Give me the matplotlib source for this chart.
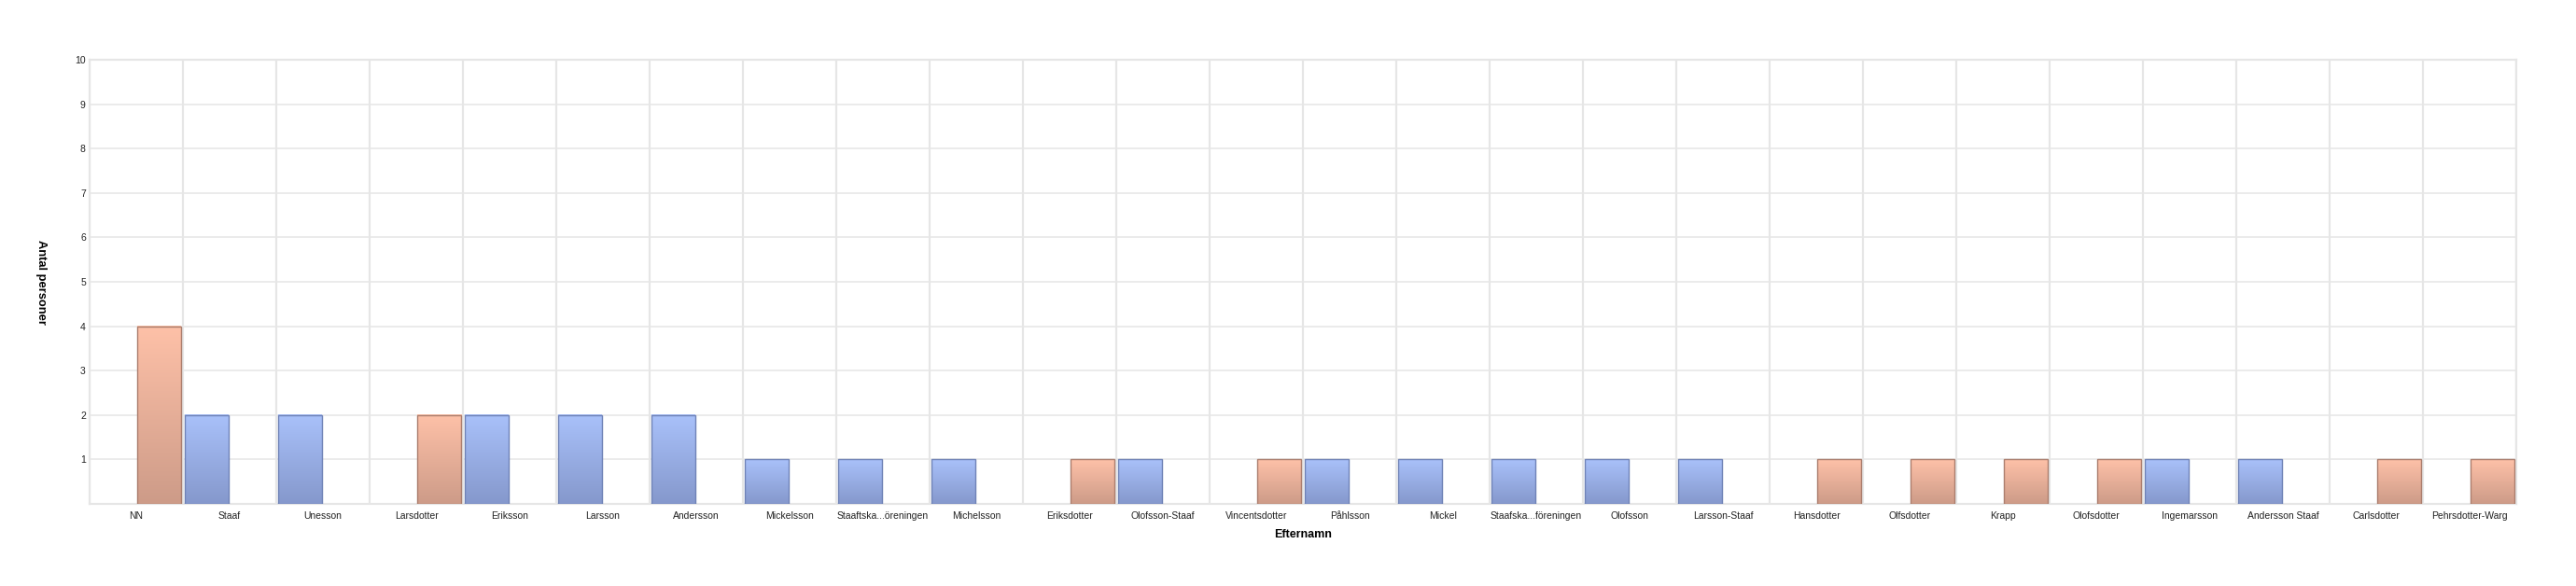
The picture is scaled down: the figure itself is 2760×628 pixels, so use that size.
import numpy as np
import matplotlib
matplotlib.use('Agg')
import matplotlib.pyplot as plt
from matplotlib.colors import LinearSegmentedColormap

plt.rcParams['font.family'] = ['Liberation Sans', 'DejaVu Sans']

# data: number of persons per surname, split into men (blue) and women (orange)
surnames = [
    'NN', 'Staaf', 'Unesson', 'Larsdotter', 'Eriksson', 'Larsson', 'Andersson',
    'Mickelsson', 'Staaftska...öreningen', 'Michelsson', 'Eriksdotter',
    'Olofsson-Staaf', 'Vincentsdotter', 'Påhlsson', 'Mickel',
    'Staafska...föreningen', 'Olofsson', 'Larsson-Staaf', 'Hansdotter',
    'Olfsdotter', 'Krapp', 'Olofsdotter', 'Ingemarsson', 'Andersson Staaf',
    'Carlsdotter', 'Pehrsdotter-Warg',
]
men = [0, 2, 2, 0, 2, 2, 2, 1, 1, 1, 0, 1, 0, 1, 1, 1, 1, 1, 0, 0, 0, 0, 1, 1, 0, 0]
women = [4, 0, 0, 2, 0, 0, 0, 0, 0, 0, 1, 0, 1, 0, 0, 0, 0, 0, 1, 1, 1, 1, 0, 0, 1, 1]
yticks = [1, 2, 3, 4, 5, 6, 7, 8, 9, 10]

grid_col = '#e6e6e6'
blue_cmap = LinearSegmentedColormap.from_list('b', ['#8598cc', '#a9c1fa'])
orange_cmap = LinearSegmentedColormap.from_list('o', ['#cd9b88', '#fec1a8'])
blue_edge = '#6f82b6'
orange_edge = '#ab7e6e'

fig = plt.figure(figsize=(27.6, 6.28), dpi=100)
ax = fig.add_axes([96 / 2760, 1 - 540 / 628, 2600 / 2760, 476 / 628])

x = np.arange(len(surnames))
width = 0.47
grad = np.linspace(0, 1, 256).reshape(-1, 1)


def gradient_bars(xpos, values, cmap, edge):
    bars = ax.bar(xpos, values, width, facecolor='none', edgecolor=edge,
                  linewidth=1.0, zorder=4)
    for b in bars:
        h = b.get_height()
        if h <= 0:
            b.set_visible(False)
            continue
        x0 = b.get_x()
        ax.imshow(grad, cmap=cmap, origin='lower', aspect='auto',
                  extent=(x0, x0 + b.get_width(), 0, h), zorder=3,
                  interpolation='bilinear')


gradient_bars(x - 0.245, men, blue_cmap, blue_edge)
gradient_bars(x + 0.245, women, orange_cmap, orange_edge)

ax.set_xlim(-0.5, len(surnames) - 0.5)
ax.set_ylim(0, 10)

# grid: vertical lines at category borders, horizontal at every unit
for xb in np.arange(-0.5, len(surnames) + 0.5, 1):
    ax.axvline(xb, color=grid_col, linewidth=1.6, zorder=1)
for yt in yticks:
    ax.axhline(yt, color=grid_col, linewidth=1.1, zorder=1)

for side in ['left', 'right', 'top', 'bottom']:
    ax.spines[side].set_color(grid_col)
    ax.spines[side].set_linewidth(1.6)

ax.set_xticks(x)
ax.set_xticklabels(surnames, fontsize=7.5, color='#222222')
ax.set_yticks(yticks)
ax.set_yticklabels([str(v) for v in yticks], fontsize=7.5, color='#222222')
ax.tick_params(axis='both', length=0)
ax.tick_params(axis='x', pad=6)
ax.tick_params(axis='y', pad=3)

ax.set_xlabel('Efternamn', fontsize=9, fontweight='bold', labelpad=6)
ax.set_ylabel('Antal personer', fontsize=9.3, fontweight='bold', rotation=270,
              va='center')
ax.yaxis.set_label_coords(-52 / 2600, 0.5)

fig.savefig('out.png', dpi=100, facecolor='white')
